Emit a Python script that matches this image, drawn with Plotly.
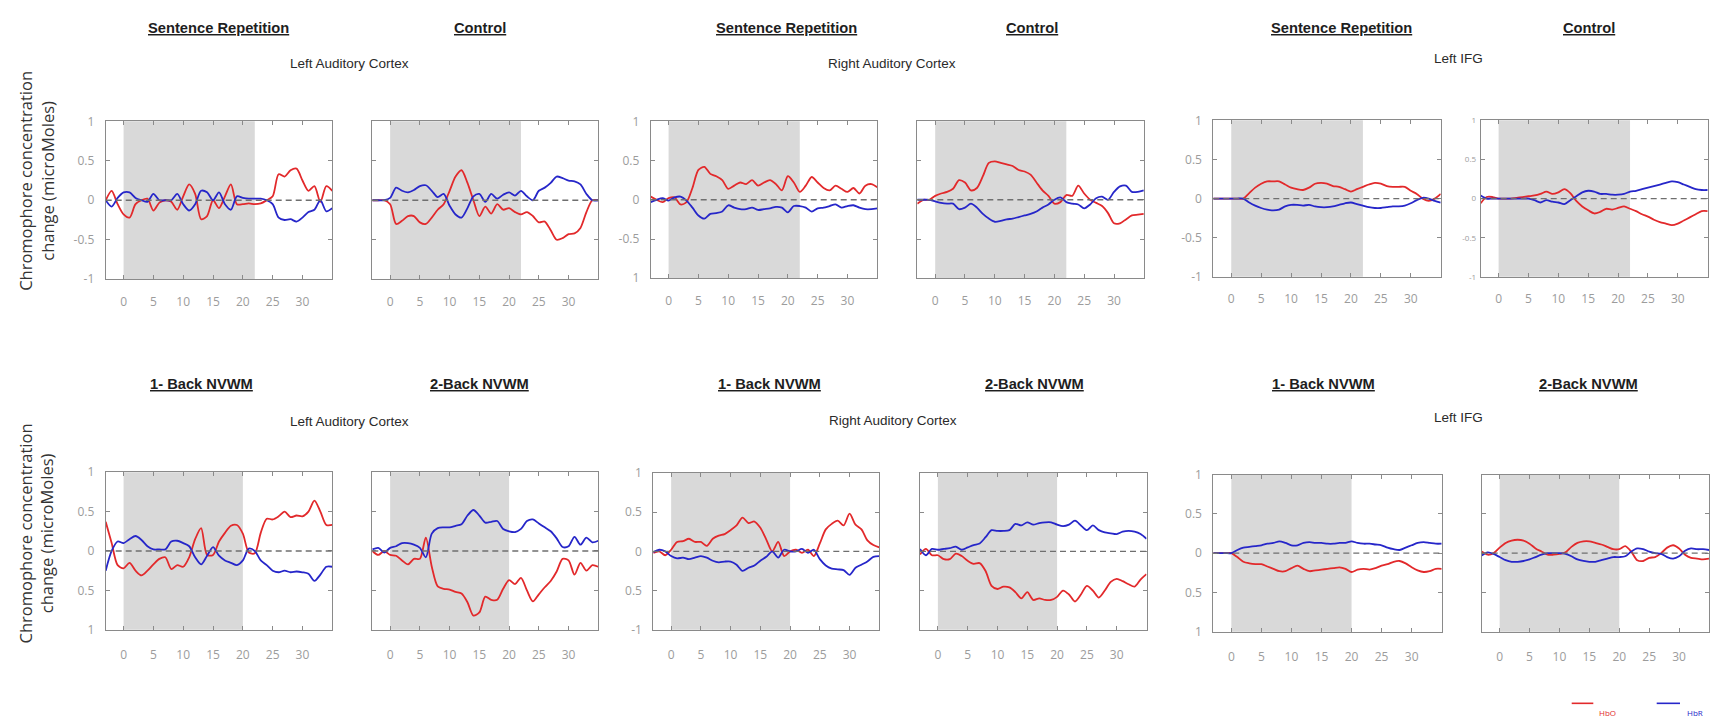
import plotly.graph_objects as go

W, H = 1723, 725

# time axis (s) relative to block onset
time_s = list(range(-3, 36))
x_ticks = [0, 5, 10, 15, 20, 25, 30]

# ---- Sentence repetition vs control ----
hbo_lac_sr = [0.0, 0.12, -0.05, -0.18, -0.22, -0.05, 0.0, 0.02, -0.13, -0.03, 0.0, -0.02, -0.12, 0.05, 0.2, 0.08,
              -0.24, -0.2, 0.0, -0.1, 0.05, 0.2, -0.05, -0.05, -0.04, -0.05, -0.04, 0.0, 0.05, 0.33, 0.3, 0.38,
              0.4, 0.25, 0.12, 0.18, -0.02, 0.18, 0.12]
hbr_lac_sr = [0.0, -0.08, 0.03, 0.1, 0.1, 0.03, 0.0, -0.02, 0.08, 0.0, 0.0, 0.0, 0.08, -0.05, -0.13, -0.05,
              0.12, 0.1, 0.0, 0.1, -0.05, -0.12, 0.05, 0.03, 0.02, 0.02, 0.02, 0.0, -0.05, -0.22, -0.25, -0.24,
              -0.27, -0.22, -0.15, -0.12, 0.0, -0.14, -0.1]
hbo_lac_ctrl = [0.0, 0.0, 0.0, -0.05, -0.3, -0.26, -0.2, -0.2, -0.28, -0.3, -0.22, -0.12, -0.05, 0.12, 0.3, 0.38,
                0.22, 0.0, -0.2, -0.08, -0.17, -0.05, -0.12, -0.1, -0.15, -0.18, -0.15, -0.2, -0.28, -0.27, -0.38,
                -0.5, -0.48, -0.43, -0.42, -0.35, -0.15, 0.0, 0.0]
hbr_lac_ctrl = [0.0, 0.0, 0.0, 0.03, 0.16, 0.12, 0.1, 0.13, 0.18, 0.19, 0.12, 0.04, 0.08, -0.07, -0.18, -0.22,
                -0.1, 0.05, 0.08, -0.02, 0.08, 0.02, 0.07, 0.1, 0.06, 0.12, 0.05, 0.0, 0.12, 0.16, 0.22, 0.3,
                0.28, 0.25, 0.24, 0.2, 0.08, 0.0, 0.0]
hbo_rac_sr = [0.04, 0.0, -0.03, 0.02, 0.03, -0.06, -0.03, 0.15, 0.38, 0.42, 0.33, 0.3, 0.25, 0.14, 0.18, 0.22,
              0.2, 0.25, 0.18, 0.22, 0.25, 0.2, 0.12, 0.3, 0.22, 0.1, 0.18, 0.29, 0.22, 0.15, 0.12, 0.18, 0.14,
              0.1, 0.15, 0.08, 0.18, 0.2, 0.16]
hbr_rac_sr = [-0.03, 0.0, 0.02, -0.01, 0.03, 0.04, -0.01, -0.1, -0.2, -0.24, -0.18, -0.17, -0.15, -0.07, -0.1,
              -0.12, -0.12, -0.1, -0.13, -0.12, -0.11, -0.09, -0.1, -0.16, -0.08, -0.08, -0.1, -0.15, -0.11, -0.1,
              -0.08, -0.06, -0.1, -0.08, -0.07, -0.1, -0.12, -0.12, -0.11]
hbo_rac_ctrl = [-0.05, 0.0, 0.0, 0.05, 0.08, 0.1, 0.14, 0.25, 0.22, 0.12, 0.15, 0.3, 0.47, 0.49, 0.47, 0.45,
                0.43, 0.38, 0.36, 0.32, 0.22, 0.12, 0.05, -0.05, -0.03, 0.06, 0.05, 0.18, 0.08, 0.0, -0.04, -0.08,
                -0.17, -0.3, -0.3, -0.25, -0.2, -0.19, -0.18]
hbr_rac_ctrl = [0.0, 0.0, 0.0, -0.02, -0.04, -0.05, -0.05, -0.12, -0.1, -0.05, -0.1, -0.18, -0.24, -0.28, -0.27,
                -0.25, -0.24, -0.22, -0.2, -0.18, -0.15, -0.1, -0.06, 0.0, 0.03, -0.03, -0.05, -0.06, -0.11, -0.06,
                0.02, 0.04, 0.0, 0.1, 0.17, 0.18, 0.1, 0.1, 0.12]
hbo_lifg_sr = [0.0, 0.0, 0.0, 0.0, 0.0, 0.0, 0.07, 0.14, 0.19, 0.22, 0.22, 0.22, 0.18, 0.14, 0.12, 0.11, 0.14,
               0.19, 0.2, 0.19, 0.16, 0.15, 0.12, 0.09, 0.12, 0.15, 0.18, 0.2, 0.19, 0.16, 0.15, 0.15, 0.15, 0.1,
               0.06, 0.0, -0.03, 0.0, 0.06]
hbr_lifg_sr = [0.0, 0.0, 0.0, 0.0, 0.0, 0.0, -0.05, -0.09, -0.12, -0.14, -0.15, -0.14, -0.1, -0.08, -0.08, -0.09,
               -0.08, -0.1, -0.11, -0.11, -0.1, -0.08, -0.06, -0.05, -0.07, -0.09, -0.11, -0.12, -0.12, -0.11,
               -0.1, -0.1, -0.09, -0.06, -0.02, 0.01, 0.0, -0.03, -0.05]
hbo_lifg_ctrl = [-0.06, 0.02, 0.02, 0.0, 0.0, 0.0, 0.01, 0.02, 0.03, 0.04, 0.06, 0.09, 0.06, 0.08, 0.12, 0.07,
                 -0.03, -0.1, -0.15, -0.19, -0.17, -0.13, -0.14, -0.12, -0.1, -0.13, -0.16, -0.2, -0.23, -0.27,
                 -0.3, -0.32, -0.34, -0.32, -0.28, -0.24, -0.2, -0.16, -0.16]
hbr_lifg_ctrl = [0.04, 0.0, 0.0, 0.0, 0.0, 0.0, 0.0, 0.0, 0.0, -0.02, -0.05, -0.02, -0.04, -0.05, -0.07, -0.02,
                 0.03, 0.08, 0.1, 0.09, 0.06, 0.06, 0.05, 0.05, 0.06, 0.09, 0.1, 0.12, 0.14, 0.16, 0.18, 0.2, 0.22,
                 0.21, 0.18, 0.15, 0.12, 0.11, 0.11]

# ---- 1-back vs 2-back non-verbal working memory ----
hbo_lac_1b = [0.37, 0.1, -0.18, -0.22, -0.15, -0.25, -0.31, -0.25, -0.17, -0.1, -0.08, -0.23, -0.18, -0.2,
              -0.08, 0.15, 0.29, -0.05, -0.05, 0.12, 0.23, 0.32, 0.33, 0.22, -0.02, -0.03, 0.23, 0.41, 0.4, 0.44,
              0.5, 0.43, 0.45, 0.44, 0.5, 0.64, 0.5, 0.33, 0.33]
hbr_lac_1b = [-0.25, 0.0, 0.12, 0.1, 0.15, 0.19, 0.14, 0.06, 0.02, 0.02, 0.02, 0.12, 0.13, 0.1, 0.06, -0.08,
              -0.17, -0.06, 0.05, -0.06, -0.12, -0.15, -0.18, -0.12, 0.03, 0.0, -0.12, -0.18, -0.25, -0.27,
              -0.25, -0.27, -0.26, -0.27, -0.29, -0.38, -0.3, -0.2, -0.2]
hbo_lac_2b = [0.0, -0.05, 0.0, -0.05, -0.06, -0.12, -0.17, -0.1, -0.1, 0.17, -0.2, -0.45, -0.48, -0.49, -0.52,
              -0.54, -0.65, -0.82, -0.78, -0.58, -0.62, -0.62, -0.48, -0.37, -0.42, -0.34, -0.5, -0.64, -0.55,
              -0.46, -0.38, -0.26, -0.1, -0.12, -0.3, -0.15, -0.25, -0.18, -0.2]
hbr_lac_2b = [0.02, 0.04, -0.02, 0.04, 0.06, 0.1, 0.1, 0.08, 0.04, -0.08, 0.22, 0.29, 0.3, 0.3, 0.32, 0.34, 0.45,
              0.52, 0.45, 0.36, 0.37, 0.38, 0.28, 0.25, 0.24, 0.28, 0.38, 0.4, 0.35, 0.3, 0.25, 0.16, 0.05, 0.06,
              0.18, 0.08, 0.17, 0.11, 0.13]
hbo_rac_1b = [-0.02, 0.0, -0.05, 0.02, 0.12, 0.13, 0.16, 0.12, 0.12, 0.07, 0.16, 0.2, 0.22, 0.27, 0.33, 0.43,
              0.36, 0.38, 0.3, 0.15, 0.0, 0.12, -0.06, 0.0, 0.02, -0.02, 0.02, -0.06, 0.1, 0.28, 0.35, 0.39,
              0.33, 0.48, 0.34, 0.28, 0.14, 0.08, 0.05]
hbr_rac_1b = [-0.01, 0.02, 0.0, -0.06, -0.09, -0.08, -0.1, -0.08, -0.06, -0.08, -0.12, -0.14, -0.13, -0.13,
              -0.17, -0.25, -0.21, -0.18, -0.12, -0.07, 0.0, -0.08, 0.02, 0.0, 0.0, 0.03, -0.02, 0.02, -0.1,
              -0.18, -0.22, -0.23, -0.24, -0.3, -0.21, -0.17, -0.13, -0.07, -0.06]
hbo_rac_2b = [-0.04, 0.03, -0.05, -0.05, -0.1, -0.1, -0.03, -0.06, -0.12, -0.16, -0.15, -0.25, -0.44, -0.48,
              -0.45, -0.46, -0.52, -0.6, -0.52, -0.62, -0.6, -0.62, -0.62, -0.58, -0.5, -0.55, -0.64, -0.55,
              -0.44, -0.5, -0.59, -0.5, -0.39, -0.35, -0.38, -0.42, -0.45, -0.36, -0.29]
hbr_rac_2b = [0.03, -0.05, 0.03, 0.02, 0.03, 0.04, 0.06, 0.02, 0.05, 0.08, 0.1, 0.18, 0.27, 0.26, 0.26, 0.27,
              0.35, 0.33, 0.37, 0.34, 0.36, 0.37, 0.37, 0.34, 0.32, 0.34, 0.39, 0.33, 0.27, 0.33, 0.27, 0.24,
              0.23, 0.22, 0.25, 0.26, 0.25, 0.22, 0.16]
hbo_lifg_1b = [0.0, 0.0, 0.0, 0.0, -0.05, -0.11, -0.13, -0.14, -0.14, -0.17, -0.2, -0.23, -0.23, -0.19, -0.16,
               -0.2, -0.23, -0.22, -0.21, -0.2, -0.19, -0.18, -0.2, -0.24, -0.21, -0.2, -0.21, -0.19, -0.16,
               -0.14, -0.11, -0.1, -0.13, -0.18, -0.22, -0.24, -0.23, -0.2, -0.2]
hbr_lifg_1b = [0.0, 0.0, 0.0, 0.0, 0.04, 0.07, 0.08, 0.09, 0.1, 0.12, 0.13, 0.15, 0.13, 0.1, 0.1, 0.13, 0.14,
               0.13, 0.13, 0.12, 0.12, 0.13, 0.13, 0.15, 0.13, 0.12, 0.12, 0.11, 0.1, 0.07, 0.05, 0.04, 0.07, 0.1,
               0.13, 0.14, 0.13, 0.12, 0.12]
hbo_lifg_2b = [0.02, -0.02, 0.0, 0.07, 0.13, 0.16, 0.17, 0.16, 0.12, 0.06, 0.02, -0.02, -0.02, -0.01, 0.01,
               0.08, 0.13, 0.15, 0.15, 0.13, 0.11, 0.08, 0.05, 0.05, 0.09, 0.02, -0.09, -0.1, -0.06, -0.05, 0.0,
               0.07, 0.1, 0.06, -0.02, -0.06, -0.07, -0.08, -0.07]
hbr_lifg_2b = [-0.03, 0.01, -0.01, -0.05, -0.09, -0.11, -0.11, -0.1, -0.08, -0.05, -0.02, 0.0, 0.0, 0.0, -0.01,
               -0.04, -0.08, -0.1, -0.11, -0.11, -0.09, -0.07, -0.05, -0.05, -0.04, 0.02, 0.06, 0.05, 0.02, 0.0,
               -0.01, -0.05, -0.07, -0.04, 0.03, 0.06, 0.05, 0.05, 0.04]

# end of the task block (s), one per panel
task_end = [22, 22, 22, 22, 22, 22, 20, 20, 20, 20, 20, 20]

panel_titles = ["Sentence Repetition", "Control", "Sentence Repetition", "Control",
                "Sentence Repetition", "Control",
                "1- Back NVWM", "2-Back NVWM", "1- Back NVWM", "2-Back NVWM", "1- Back NVWM", "2-Back NVWM"]
region_names = ["Left Auditory Cortex", "Right Auditory Cortex", "Left IFG"]

y_tickvals = [-1, -0.5, 0, 0.5, 1]
ytext_full = ["-1", "-0.5", "0", "0.5", "1"]
ytext_rac_sr = ["1", "-0.5", "0", "0.5", "1"]
ytext_plain = ["1", "0.5", "0", "0.5", "1"]
ytext_rac_1b = ["-1", "0.5", "0", "0.5", "1"]

hbo_series = [hbo_lac_sr, hbo_lac_ctrl, hbo_rac_sr, hbo_rac_ctrl, hbo_lifg_sr, hbo_lifg_ctrl,
              hbo_lac_1b, hbo_lac_2b, hbo_rac_1b, hbo_rac_2b, hbo_lifg_1b, hbo_lifg_2b]
hbr_series = [hbr_lac_sr, hbr_lac_ctrl, hbr_rac_sr, hbr_rac_ctrl, hbr_lifg_sr, hbr_lifg_ctrl,
              hbr_lac_1b, hbr_lac_2b, hbr_rac_1b, hbr_rac_2b, hbr_lifg_1b, hbr_lifg_2b]

# panel frames in pixels: (left, right, top, bottom)
frames = [
    (105.7, 332.3, 115.0, 276.7), (372.3, 598.3, 115.0, 276.7),
    (650.7, 877.3, 115.0, 275.7), (917.3, 1143.8, 115.0, 275.7),
    (1213.3, 1440.7, 114.0, 274.3), (1480.7, 1707.7, 114.0, 274.3),
    (105.7, 332.3, 474.3, 635.7), (372.3, 598.3, 474.3, 635.7),
    (653.3, 879.3, 475.0, 635.7), (920.0, 1146.5, 475.0, 635.7),
    (1213.3, 1441.7, 476.7, 637.7), (1481.7, 1709.0, 476.7, 637.7),
]
# y tick labels per panel (None = ticks only)
ytexts = [ytext_full, None, ytext_rac_sr, None, ytext_full, ytext_full,
          ytext_plain, None, ytext_rac_1b, None, ytext_plain, None]
ytick_sizes = [12, 12, 12, 12, 12, 8, 12, 12, 12, 12, 12, 12]

HBO_COLOR = "#e2292b"
HBR_COLOR = "#2626c9"
FRAME = "#8a8a8a"
TICKTXT = "#9c9c9c"
TITLE_FONT = "Liberation Sans, Arial, sans-serif"

fig = go.Figure()
layout = dict(
    width=W, height=H, margin=dict(l=0, r=0, t=0, b=0),
    paper_bgcolor="white", plot_bgcolor="white", showlegend=False,
    shapes=[], annotations=[],
)

for i in range(12):
    k = i + 1
    xa = "x" if k == 1 else f"x{k}"
    ya = "y" if k == 1 else f"y{k}"
    l, r, t, b = frames[i]
    bottom_row = i >= 6

    layout[f"xaxis{'' if k == 1 else k}"] = dict(
        domain=[l / W, r / W], anchor=ya, range=[-3, 35],
        tickvals=x_ticks, ticks="inside", ticklen=4, tickcolor=FRAME,
        showline=True, linecolor=FRAME, linewidth=1, mirror="ticks",
        showgrid=False, zeroline=False,
        tickfont=dict(family="Open Sans, sans-serif", size=12, color=TICKTXT),
        ticklabelstandoff=14 if bottom_row else 11,
    )
    ytext = ytexts[i]
    layout[f"yaxis{'' if k == 1 else k}"] = dict(
        domain=[1 - b / H, 1 - t / H], anchor=xa, range=[-1, 1],
        tickvals=y_tickvals, ticktext=ytext if ytext else None,
        showticklabels=ytext is not None,
        ticks="inside", ticklen=4, tickcolor=FRAME,
        showline=True, linecolor=FRAME, linewidth=1, mirror="ticks",
        showgrid=False, zeroline=False,
        tickfont=dict(family="Open Sans, sans-serif", size=ytick_sizes[i], color=TICKTXT),
        ticklabelstandoff=2 if ytick_sizes[i] < 10 else 8,
    )

    # task block shading
    layout["shapes"].append(dict(
        type="rect", xref=xa, yref=f"{ya} domain", x0=0, x1=task_end[i], y0=0, y1=1,
        fillcolor="#d9d9d9", line=dict(width=0), layer="below",
    ))
    # baseline
    layout["shapes"].append(dict(
        type="line", xref=f"{xa} domain", yref=ya, x0=0, x1=1, y0=0, y1=0,
        line=dict(color="#6f6f6f", width=1.3, dash="6px,4px"), layer="above",
    ))

    fig.add_trace(go.Scatter(
        x=time_s, y=hbo_series[i], mode="lines", xaxis=xa, yaxis=ya, name="HbO",
        line=dict(color=HBO_COLOR, width=1.8, shape="spline", smoothing=0.8),
    ))
    fig.add_trace(go.Scatter(
        x=time_s, y=hbr_series[i], mode="lines", xaxis=xa, yaxis=ya, name="HbR",
        line=dict(color=HBR_COLOR, width=1.8, shape="spline", smoothing=0.8),
    ))

# panel titles
title_pos = [(218, 19), (480, 19), (786, 19), (1032, 19), (1341, 19), (1589, 19),
             (201, 384), (480, 384), (769, 384), (1034, 384), (1323, 384), (1588, 384)]
for text, (px, py) in zip(panel_titles, title_pos):
    layout["annotations"].append(dict(
        text=f"<u><b>{text}</b></u>", xref="paper", yref="paper",
        x=px / W, y=1 - py / H, xanchor="center", yanchor="middle", showarrow=False,
        font=dict(family=TITLE_FONT, size=14.7, color="#1e1e1e"),
    ))

# region labels
region_pos = [[(349, 56), (349, 422)], [(892, 56), (893, 421)], [(1458, 51), (1458, 418)]]
for name, positions in zip(region_names, region_pos):
    for px, py in positions:
        layout["annotations"].append(dict(
            text=name, xref="paper", yref="paper", x=px / W, y=1 - py / H,
            xanchor="center", yanchor="middle", showarrow=False,
            font=dict(family=TITLE_FONT, size=13.5, color="#2a2a2a"),
        ))

# y-axis titles
for py in (176, 537):
    layout["annotations"].append(dict(
        text="Chromophore concentration<br>change (microMoles)", xref="paper", yref="paper",
        x=36 / W, y=1 - py / H, xanchor="center", yanchor="middle", showarrow=False,
        textangle=-90, font=dict(family="Open Sans, sans-serif", size=16.5, color="#333333"),
    ))

# legend
for (x0, x1), label, color, tx in [((1571.7, 1593.3), "HbO", HBO_COLOR, 1607),
                                     ((1656.7, 1680.0), "HbR", HBR_COLOR, 1695)]:
    layout["shapes"].append(dict(
        type="line", xref="paper", yref="paper", x0=x0 / W, x1=x1 / W,
        y0=1 - 711 / H, y1=1 - 711 / H, line=dict(color=color, width=1.6),
    ))
    layout["annotations"].append(dict(
        text=label, xref="paper", yref="paper", x=tx / W, y=1 - 720 / H,
        xanchor="center", yanchor="middle", showarrow=False,
        font=dict(family="Open Sans, sans-serif", size=8, color=color),
    ))

fig.update_layout(**layout)
fig.write_html("out.html")
